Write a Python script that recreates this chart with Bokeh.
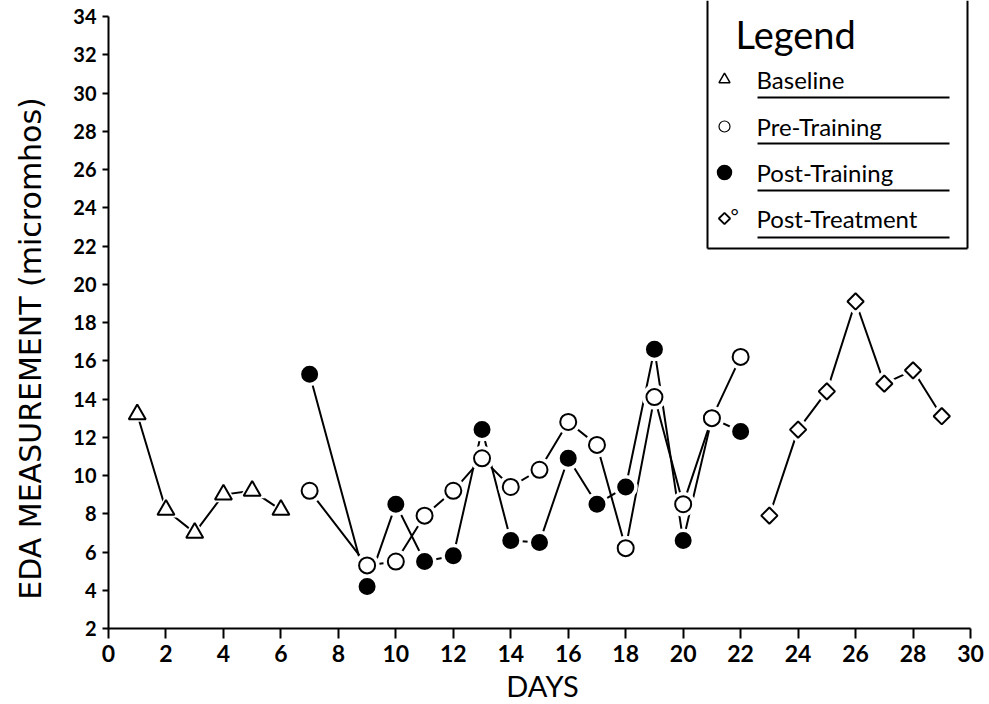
import math

from bokeh.core.properties import value
from bokeh.embed import file_html
from bokeh.models import FixedTicker, Range1d
from bokeh.plotting import figure
from bokeh.resources import INLINE

# Daily EDA readings (micromhos) for each phase of the study
baseline_days = [1, 2, 3, 4, 5, 6]
baseline_eda = [13.2, 8.2, 7.0, 9.0, 9.2, 8.2]

pre_days = [7, 9, 10, 11, 12, 13, 14, 15, 16, 17, 18, 19, 20, 21, 22]
pre_eda = [9.2, 5.3, 5.5, 7.9, 9.2, 10.9, 9.4, 10.3, 12.8, 11.6, 6.2, 14.1, 8.5, 13.0, 16.2]

post_days = [7, 9, 10, 11, 12, 13, 14, 15, 16, 17, 18, 19, 20, 21, 22]
post_eda = [15.3, 4.2, 8.5, 5.5, 5.8, 12.4, 6.6, 6.5, 10.9, 8.5, 9.4, 16.6, 6.6, 13.0, 12.3]

treat_days = [23, 24, 25, 26, 27, 28, 29]
treat_eda = [7.9, 12.4, 14.4, 19.1, 14.8, 15.5, 13.1]

x_ticks = list(range(0, 31, 2))
y_ticks = list(range(2, 35, 2))
legend_labels = ["Baseline", "Pre-Training", "Post-Training", "Post-Treatment"]

W, H = 989, 704

# the plotting frame fills the whole canvas; axes are pinned at day 0 / EDA 2
AX_LEFT, AX_RIGHT = 108, 970      # pixel columns of day 0 and day 30
AX_TOP, AX_BOTTOM = 16, 628       # pixel rows of EDA 34 and EDA 2
PX_PER_DAY = (AX_RIGHT - AX_LEFT) / 30
PX_PER_UNIT = (AX_BOTTOM - AX_TOP) / 32
X0 = -AX_LEFT / PX_PER_DAY
X1 = X0 + W / PX_PER_DAY
Y1 = 34 + AX_TOP / PX_PER_UNIT
Y0 = Y1 - H / PX_PER_UNIT

FONT = value("Lato")


def px_x(px):
    """Canvas pixel column -> data x."""
    return X0 + px / PX_PER_DAY


def px_y(py):
    """Canvas pixel row -> data y."""
    return Y1 - py / PX_PER_UNIT


p = figure(
    width=W, height=H,
    x_range=Range1d(X0, X1), y_range=Range1d(Y0, Y1),
    output_backend="svg", toolbar_location=None,
    min_border=0, min_border_left=0, min_border_right=0,
    min_border_top=0, min_border_bottom=0,
)
p.outline_line_color = None
p.grid.visible = False
p.background_fill_color = "white"
p.border_fill_color = "white"

# axes
p.xaxis.ticker = FixedTicker(ticks=x_ticks)
p.yaxis.ticker = FixedTicker(ticks=y_ticks)
p.xaxis.bounds = (0, 30)
p.yaxis.bounds = (2, 34)
p.xaxis.fixed_location = 2
p.yaxis.fixed_location = 0
for ax in (p.xaxis, p.yaxis):
    ax.axis_line_width = 2
    ax.axis_line_color = "black"
    ax.major_tick_line_width = 2
    ax.major_tick_line_color = "black"
    ax.major_tick_in = 0
    ax.minor_tick_line_color = None
    ax.major_label_text_font = "Lato"
    ax.major_label_text_color = "black"
    ax.major_label_text_font_style = "bold"
p.xaxis.major_tick_out = 10
p.yaxis.major_tick_out = 6
p.xaxis.major_label_text_font_size = "23px"
p.yaxis.major_label_text_font_size = "20px"
p.xaxis.major_label_standoff = 6
p.yaxis.major_label_standoff = 6

series = [
    (baseline_days, baseline_eda, "triangle", 17, "white"),
    (pre_days, pre_eda, "circle", 16, "white"),
    (post_days, post_eda, "circle", 15, "black"),
    (treat_days, treat_eda, "square", 11.5, "white"),
]

# connecting lines
for xs, ys, *_ in series:
    p.line(xs, ys, line_color="black", line_width=2)

# white halos open a small gap where lines meet the markers
for xs, ys, marker, size, _ in series:
    angle = math.pi / 4 if marker == "square" else 0
    p.scatter(xs, ys, marker=marker, size=size + 9, angle=angle,
              fill_color="white", line_color=None)

# markers (post-training first so the open pre-training circles sit on top)
for idx in (0, 2, 1, 3):
    xs, ys, marker, size, fill = series[idx]
    angle = math.pi / 4 if marker == "square" else 0
    p.scatter(xs, ys, marker=marker, size=size, angle=angle,
              fill_color=fill, line_color="black", line_width=2)

# legend box
box_l, box_r, box_b = px_x(707), px_x(967), px_y(248)
p.segment(x0=[box_l, box_r, box_l], y0=[Y1, Y1, box_b],
          x1=[box_l, box_r, box_r], y1=[box_b, box_b, box_b],
          line_color="black", line_width=2)

p.text(x=[px_x(735)], y=[px_y(33)], text=["Legend"],
       text_font=FONT, text_font_size="38px",
       text_baseline="middle", text_align="left", text_color="black")

entry_mid = [79, 126, 172, 218]
entry_line = [97, 143, 190, 237]
legend_marks = [("triangle", 11, "white", 1.5), ("circle", 11, "white", 1.2),
                ("circle", 14, "black", 1.5), ("square", 8, "white", 1.8)]
for mid, uline, label, (marker, size, fill, lw) in zip(
        entry_mid, entry_line, legend_labels, legend_marks):
    angle = math.pi / 4 if marker == "square" else 0
    p.scatter([px_x(724)], [px_y(mid)], marker=marker, size=size, angle=angle,
              fill_color=fill, line_color="black", line_width=lw)
    p.text(x=[px_x(756)], y=[px_y(mid)], text=[label],
           text_font=FONT, text_font_size="24px",
           text_baseline="middle", text_align="left", text_color="black")
    p.segment(x0=[px_x(757)], y0=[px_y(uline)], x1=[px_x(949)], y1=[px_y(uline)],
              line_color="black", line_width=2)

p.text(x=[px_x(730)], y=[px_y(214)], text=["°"], text_font=FONT,
       text_font_size="20px", text_baseline="middle", text_align="left",
       text_color="black")

# axis titles
p.text(x=[px_x(30)], y=[px_y(348)], text=["EDA MEASUREMENT (micromhos)"],
       angle=math.pi / 2, text_align="center", text_baseline="middle",
       text_font=value("DejaVu Sans"), text_font_size="30px", text_color="black")
p.text(x=[px_x(542)], y=[px_y(685)], text=["DAYS"],
       text_align="center", text_baseline="middle",
       text_font=FONT, text_font_size="29px", text_color="black")

open("out.html", "w").write(file_html(p, INLINE))
